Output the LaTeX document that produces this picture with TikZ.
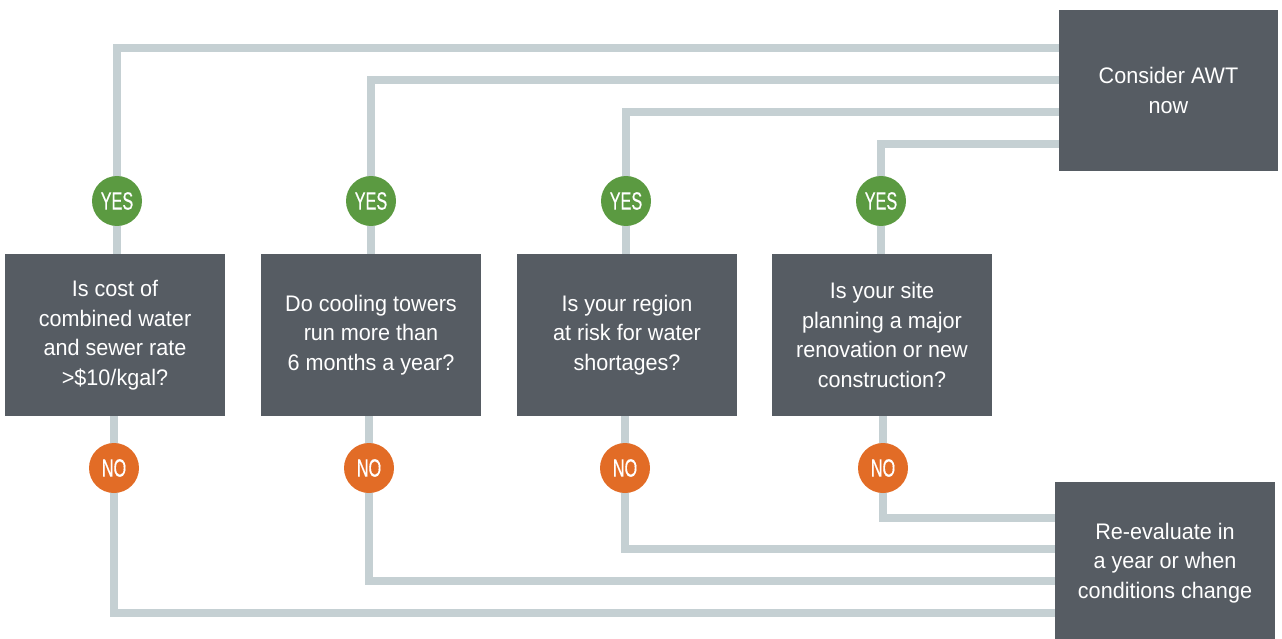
\documentclass[tikz,border=0pt]{standalone}
\usepackage{fontspec}
\setmainfont{Liberation Sans}[FakeStretch=0.96]
\newfontfamily\condfont{Liberation Sans}[FakeStretch=0.65,FakeBold=0.4]
\usetikzlibrary{backgrounds}
\definecolor{boxgray}{HTML}{565C63}
\definecolor{linegray}{HTML}{C5D0D3}
\definecolor{yesgreen}{HTML}{5B9A41}
\definecolor{noorange}{HTML}{E26C26}
\tikzset{
  qbox/.style={fill=boxgray, text=white, minimum width=220pt, minimum height=162pt,
    inner sep=0pt, align=center, font=\fontsize{22.5}{29.5}\selectfont},
  endbox/.style={fill=boxgray, text=white, inner sep=0pt, align=center,
    font=\fontsize{22.5}{29.5}\selectfont},
  yesdot/.style={circle, fill=yesgreen, text=white, minimum size=50pt, inner sep=0pt,
    font=\condfont\fontsize{25}{25}\selectfont},
  nodot/.style={circle, fill=noorange, text=white, minimum size=50pt, inner sep=0pt,
    font=\condfont\fontsize{25}{25}\selectfont},
  conn/.style={draw=linegray, line width=8pt, line join=miter}
}
\begin{document}
\begin{tikzpicture}[x=1pt,y=-1pt]
\useasboundingbox (0,0) rectangle (1282,639);
% end boxes
\node[endbox, minimum width=219pt, minimum height=161pt] (awt) at (1168.5,90.5) {Consider AWT\\now};
\node[endbox, minimum width=220pt, minimum height=162pt] (re) at (1165,563) {Re-evaluate in\\a year or when\\conditions change};
% question boxes
\node[qbox] (q1) at (115,335) {Is cost of\\combined water\\and sewer rate\\>\$10/kgal?};
\node[qbox] (q2) at (371,335) {Do cooling towers\\run more than\\6 months a year?};
\node[qbox] (q3) at (627,335) {Is your region\\at risk for water\\shortages?};
\node[qbox] (q4) at (882,335) {Is your site\\planning a major\\renovation or new\\construction?};
% yes / no dots
\node[yesdot] (y1) at (117,201) {YES};
\node[yesdot] (y2) at (371,201) {YES};
\node[yesdot] (y3) at (626,201) {YES};
\node[yesdot] (y4) at (881,201) {YES};
\node[nodot] (n1) at (114,468) {NO};
\node[nodot] (n2) at (369,468) {NO};
\node[nodot] (n3) at (625,468) {NO};
\node[nodot] (n4) at (883,468) {NO};
% connector ends
\coordinate (t1) at (1059,48);
\coordinate (t2) at (1059,80);
\coordinate (t3) at (1059,112);
\coordinate (t4) at (1059,144);
\coordinate (b4) at (1055,518);
\coordinate (b3) at (1055,549);
\coordinate (b2) at (1055,581);
\coordinate (b1) at (1055,613);
\begin{scope}[on background layer]
\draw[conn] (q1.center) -- (y1.center |- q1.center) -- (y1.center |- t1) -- (t1);
\draw[conn] (q2.center) -- (y2.center |- q2.center) -- (y2.center |- t2) -- (t2);
\draw[conn] (q3.center) -- (y3.center |- q3.center) -- (y3.center |- t3) -- (t3);
\draw[conn] (q4.center) -- (y4.center |- q4.center) -- (y4.center |- t4) -- (t4);
\draw[conn] (q1.center) -- (n1.center |- q1.center) -- (n1.center |- b1) -- (b1);
\draw[conn] (q2.center) -- (n2.center |- q2.center) -- (n2.center |- b2) -- (b2);
\draw[conn] (q3.center) -- (n3.center |- q3.center) -- (n3.center |- b3) -- (b3);
\draw[conn] (q4.center) -- (n4.center |- q4.center) -- (n4.center |- b4) -- (b4);
\end{scope}
\end{tikzpicture}
\end{document}
